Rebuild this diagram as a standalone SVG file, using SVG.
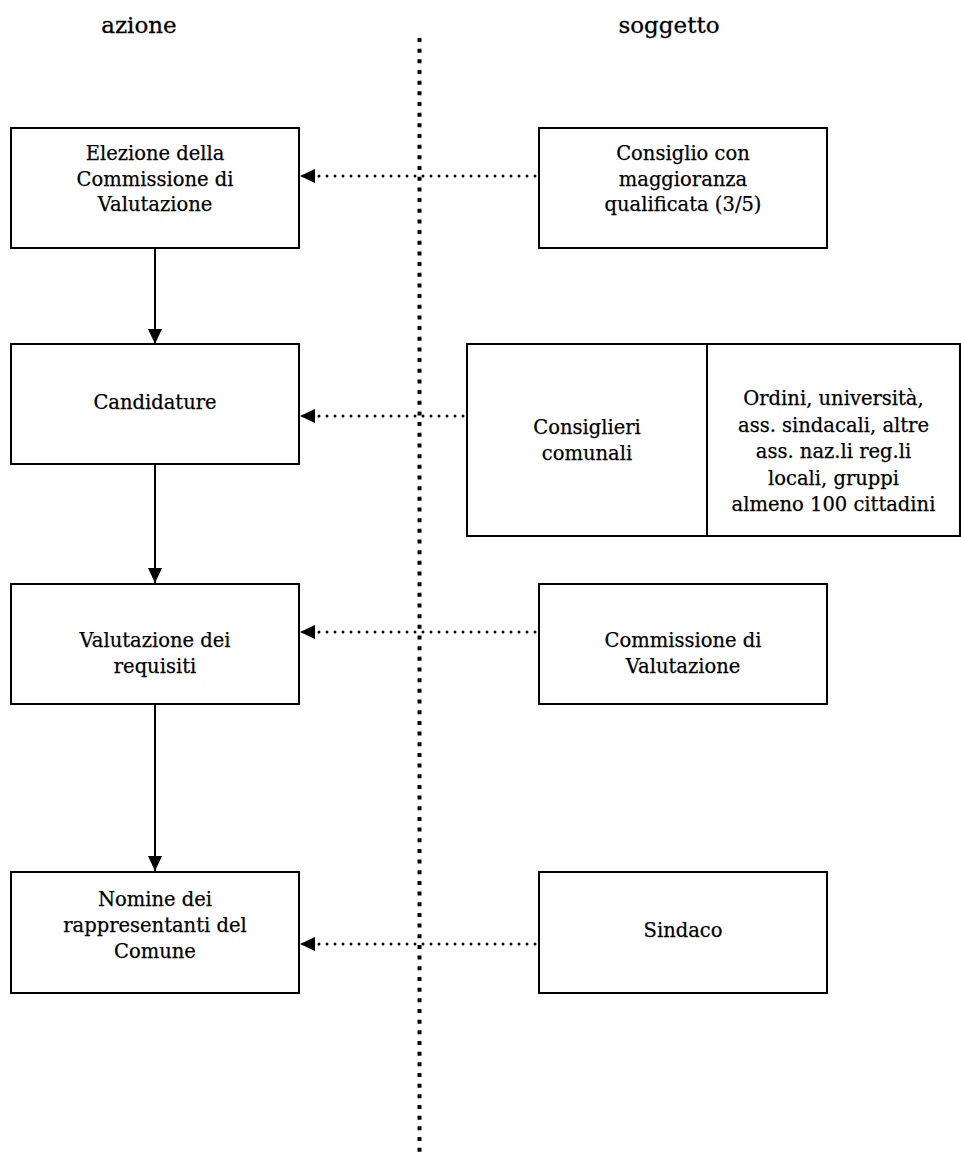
<svg xmlns="http://www.w3.org/2000/svg" width="961" height="1158" viewBox="0 0 961 1158">
<style>
.box{fill:#fff;stroke:#000;stroke-width:2}
.t{font-family:"DejaVu Serif","Liberation Serif",serif;font-size:19.5px;text-anchor:middle;fill:#000;stroke:#000;stroke-width:0.25}
.h{font-family:"DejaVu Serif","Liberation Serif",serif;font-size:23px;text-anchor:middle;fill:#000;stroke:#000;stroke-width:0.3}
.dot{stroke:#000;stroke-width:3;stroke-linecap:round;stroke-dasharray:0 8;fill:none}
.sol{stroke:#000;stroke-width:2;fill:none}
</style>
<defs>
<marker id="ah" markerWidth="16" markerHeight="16" refX="15" refY="7" orient="auto" markerUnits="userSpaceOnUse"><path d="M0,0 L15,7 L0,14 Z" fill="#000"/></marker>
</defs>
<text class="h" x="139" y="33">azione</text>
<text class="h" x="669" y="33">soggetto</text>
<line x1="419.5" y1="38" x2="419.5" y2="1158" stroke="#000" stroke-width="4" stroke-dasharray="4 6.67"/>
<g id="connectors">
<line class="dot" x1="535" y1="176" x2="312" y2="176"/>
<path d="M300,176 L315,169 L315,183 Z"/>
<line class="dot" x1="463" y1="416" x2="312" y2="416"/>
<path d="M300,416 L315,409 L315,423 Z"/>
<line class="dot" x1="535" y1="632" x2="312" y2="632"/>
<path d="M300,632 L315,625 L315,639 Z"/>
<line class="dot" x1="535" y1="944" x2="312" y2="944"/>
<path d="M300,944 L315,937 L315,951 Z"/>
<line class="sol" x1="155" y1="248" x2="155" y2="344" marker-end="url(#ah)"/>
<line class="sol" x1="155" y1="464" x2="155" y2="583" marker-end="url(#ah)"/>
<line class="sol" x1="155" y1="704" x2="155" y2="871" marker-end="url(#ah)"/>
</g>
<g id="n1"><rect class="box" x="11" y="128" width="288" height="120"/>
<text class="t" x="155" y="160">Elezione della</text>
<text class="t" x="155" y="186">Commissione di</text>
<text class="t" x="155" y="211">Valutazione</text></g>
<g id="n2"><rect class="box" x="11" y="344" width="288" height="120"/>
<text class="t" x="155" y="409">Candidature</text></g>
<g id="n3"><rect class="box" x="11" y="584" width="288" height="120"/>
<text class="t" x="155" y="647">Valutazione dei</text>
<text class="t" x="155" y="673">requisiti</text></g>
<g id="n4"><rect class="box" x="11" y="872" width="288" height="121"/>
<text class="t" x="155" y="906">Nomine dei</text>
<text class="t" x="155" y="932">rappresentanti del</text>
<text class="t" x="155" y="958">Comune</text></g>
<g id="s1"><rect class="box" x="539" y="128" width="288" height="120"/>
<text class="t" x="683" y="160">Consiglio con</text>
<text class="t" x="683" y="186">maggioranza</text>
<text class="t" x="683" y="211">qualificata (3/5)</text></g>
<g id="s2"><rect class="box" x="467" y="344" width="493" height="192"/>
<line class="sol" x1="707" y1="344" x2="707" y2="536"/>
<text class="t" x="587" y="434">Consiglieri</text>
<text class="t" x="587" y="460">comunali</text>
<text class="t" x="833.5" y="405">Ordini, università,</text>
<text class="t" x="833.5" y="431.5">ass. sindacali, altre</text>
<text class="t" x="833.5" y="458">ass. naz.li reg.li</text>
<text class="t" x="833.5" y="484.5">locali, gruppi</text>
<text class="t" x="833.5" y="511">almeno 100 cittadini</text></g>
<g id="s3"><rect class="box" x="539" y="584" width="288" height="120"/>
<text class="t" x="683" y="647">Commissione di</text>
<text class="t" x="683" y="673">Valutazione</text></g>
<g id="s4"><rect class="box" x="539" y="872" width="288" height="121"/>
<text class="t" x="683" y="937">Sindaco</text></g>
</svg>
